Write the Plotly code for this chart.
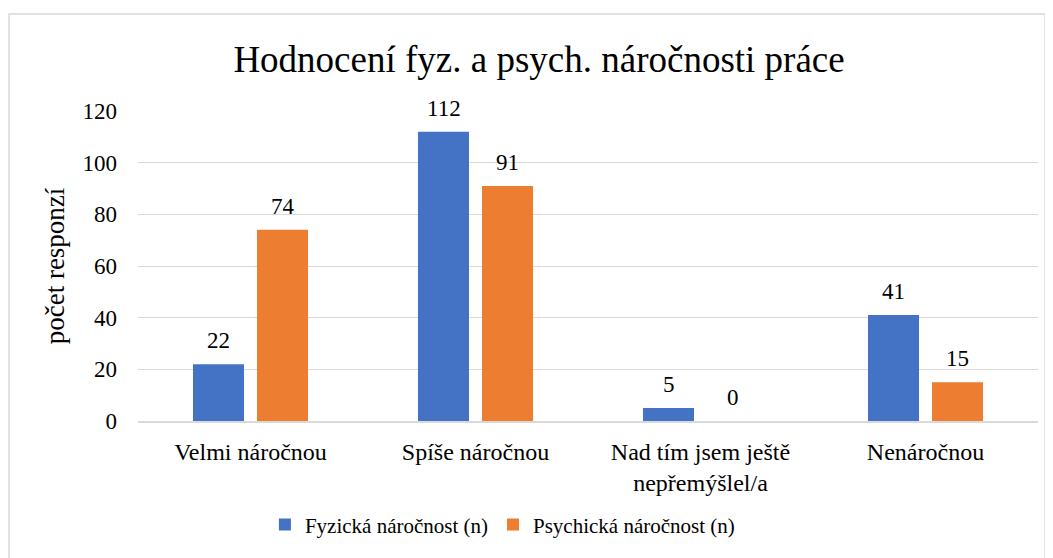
import plotly.graph_objects as go

categories = ["Velmi náročnou", "Spíše náročnou", "Nad tím jsem ještě<br>nepřemýšlel/a", "Nenáročnou"]
fyzicka = [22, 112, 5, 41]
psychicka = [74, 91, 0, 15]
y_ticks = [0, 20, 40, 60, 80, 100, 120]

FONT = "Liberation Serif, Times New Roman, serif"

fig = go.Figure()
fig.add_trace(go.Bar(x=categories, y=fyzicka, name="Fyzická náročnost (n)",
                     marker=dict(color="#4472C4", line=dict(width=0))))
fig.add_trace(go.Bar(x=categories, y=psychicka, name="Psychická náročnost (n)",
                     marker=dict(color="#ED7D31", line=dict(width=0))))

# data labels above the bars
annotations = []
for vals, shift in [(fyzicka, -32), (psychicka, 32)]:
    for cat, v in zip(categories, vals):
        annotations.append(dict(x=cat, y=v, xref="x", yref="y", text=str(v), showarrow=False,
                                xshift=shift, yshift=9, yanchor="bottom",
                                font=dict(size=23, family=FONT, color="#000000")))

# page body has 8px margin, so the figure is drawn 8px smaller
fig.update_layout(
    width=1045, height=550,
    margin=dict(l=130, r=15, t=103, b=137),
    paper_bgcolor="white", plot_bgcolor="white",
    font=dict(family=FONT, size=23, color="#000000"),
    title=dict(text="Hodnocení fyz. a psych. náročnosti práce", x=0.4456, xanchor="center",
               xref="paper", y=0.9075, yanchor="middle", font=dict(size=37, family=FONT)),
    barmode="group", bargap=0.431, bargroupgap=0.203,
    showlegend=True,
    legend=dict(orientation="h", x=0.141, xanchor="left", y=-0.335, yanchor="middle",
                font=dict(size=21, family=FONT), traceorder="normal"),
    annotations=annotations,
    shapes=[dict(type="rect", xref="paper", yref="paper",
                 x0=-0.1433, x1=1.0078, y0=-0.47, y1=1.313,
                 line=dict(color="#D9D9D9", width=1.5), fillcolor="rgba(0,0,0,0)", layer="below")],
)
fig.update_xaxes(showgrid=False, showline=True, linecolor="#D9D9D9", linewidth=1.5,
                 ticks="", tickfont=dict(size=24, family=FONT), ticklabelstandoff=8)
fig.update_yaxes(range=[0, 120], tickvals=y_ticks, showgrid=True, gridcolor="#D9D9D9",
                 gridwidth=1.2, zeroline=False, showline=False, ticks="",
                 tickfont=dict(size=23, family=FONT), ticklabelstandoff=20,
                 title=dict(text="počet responzí", font=dict(size=27, family=FONT), standoff=10))

fig.write_html("out.html")
